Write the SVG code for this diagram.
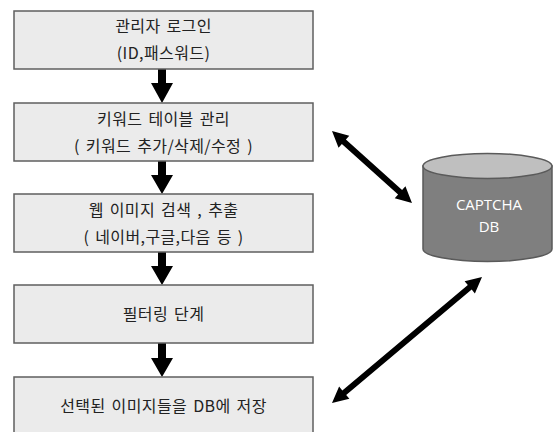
<svg xmlns="http://www.w3.org/2000/svg" width="557" height="432" viewBox="0 0 557 432">
<style>
.box{fill:#ebebeb;stroke:#5f5f5f;stroke-width:1.5}
.t{font-family:"Noto Sans CJK KR","Noto Sans",sans-serif;font-size:16px;fill:#222;text-anchor:middle;letter-spacing:0.4px;word-spacing:2px}
.dbt{font-family:"Open Sans","Noto Sans",sans-serif;font-size:15px;fill:#fff;text-anchor:middle}
.arr{fill:#000}
</style>
<rect width="557" height="432" fill="#fff"/>
<g id="connectors">
<path class="arr" d="M158,69 L166,69 L166,83 L173,83 L162,103 L151,83 L158,83 Z"/>
<path class="arr" d="M158,161 L166,161 L166,175 L173,175 L162,194 L151,175 L158,175 Z"/>
<path class="arr" d="M158,252 L166,252 L166,266 L173,266 L162,285 L151,266 L158,266 Z"/>
<path class="arr" d="M158,343 L166,343 L166,358 L173,358 L162,377 L151,358 L158,358 Z"/>
<path class="arr" transform="translate(332,131) rotate(41.99)" d="M0,0 L16,-8 L16,-3 L91.6,-3 L91.6,-8 L107.6,0 L91.6,8 L91.6,3 L16,3 L16,8 Z"/>
<path class="arr" transform="translate(332,403) rotate(-40.03)" d="M0,0 L16,-8 L16,-3 L179.9,-3 L179.9,-8 L195.9,0 L179.9,8 L179.9,3 L16,3 L16,8 Z"/>
</g>
<g id="n1">
<rect class="box" x="14" y="11" width="299" height="58"/>
<text class="t" x="163.5" y="32">관리자 로그인</text>
<text class="t" x="163.5" y="59">(ID,패스워드)</text>
</g>
<g id="n2">
<rect class="box" x="14" y="103" width="299" height="58"/>
<text class="t" x="163.5" y="125">키워드 테이블 관리</text>
<text class="t" x="163.5" y="152">( 키워드 추가/삭제/수정 )</text>
</g>
<g id="n3">
<rect class="box" x="14" y="194" width="299" height="58"/>
<text class="t" x="163.5" y="216">웹 이미지 검색 , 추출</text>
<text class="t" x="163.5" y="243">( 네이버,구글,다음 등 )</text>
</g>
<g id="n4">
<rect class="box" x="14" y="285" width="299" height="58"/>
<text class="t" x="163.5" y="320">필터링 단계</text>
</g>
<g id="n5">
<rect class="box" x="14" y="377" width="299" height="62"/>
<text class="t" x="163.5" y="412">선택된 이미지들을 DB에 저장</text>
</g>
<g id="db">
<path d="M423,166 L423,249 A64.5,12.5 0 0 0 552,249 L552,166 Z" fill="#7f7f7f" stroke="#5a5a5a" stroke-width="1.5"/>
<ellipse cx="487.5" cy="166" rx="64.5" ry="12.5" fill="#bfbfbf" stroke="#5a5a5a" stroke-width="1.5"/>
<text class="dbt" x="489" y="210">CAPTCHA</text>
<text class="dbt" x="489" y="232">DB</text>
</g>
</svg>
